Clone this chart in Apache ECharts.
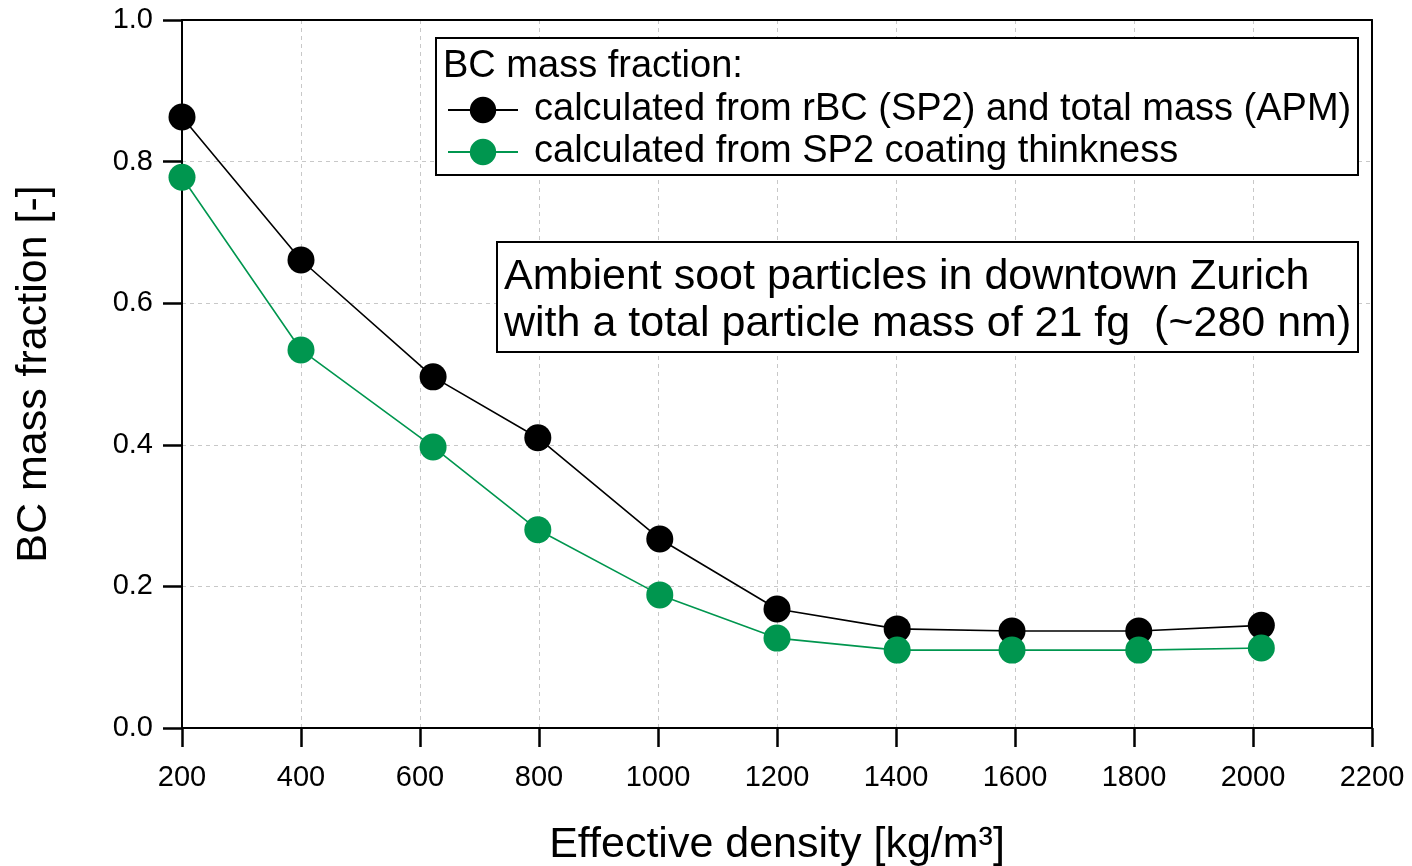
<!DOCTYPE html>
<html><head><meta charset="utf-8">
<script src="https://cdn.jsdelivr.net/npm/echarts@6/dist/echarts.min.js"></script>
<style>html,body{margin:0;padding:0;background:#fff}#c{width:1412px;height:866px}</style>
</head><body><div id="c"></div>
<script>
const densityBlack = [200, 400, 622, 798, 1003, 1200, 1402, 1595, 1808, 2014];
const fractionBlack = [0.863, 0.661, 0.496, 0.410, 0.267, 0.168, 0.140, 0.137, 0.137, 0.145];
const densityGreen = [200, 400, 622, 798, 1003, 1200, 1402, 1595, 1808, 2014];
const fractionGreen = [0.778, 0.534, 0.397, 0.280, 0.188, 0.127, 0.110, 0.110, 0.110, 0.113];
const seriesNames = ['calculated from rBC (SP2) and total mass (APM)', 'calculated from SP2 coating thinkness'];
const legendHeader = 'BC mass fraction:';
const noteLines = ['Ambient soot particles in downtown Zurich', 'with a total particle mass of 21 fg  (~280 nm)'];
const xTitle = 'Effective density [kg/m³]';
const yTitle = 'BC mass fraction [-]';
const GREEN = '#00964f';
const FONT = '"Liberation Sans", Arial, sans-serif';

const chart = echarts.init(document.getElementById('c'), null, {renderer: 'canvas'});
const pair = (xs, ys) => xs.map((x, i) => [x, ys[i]]);
chart.setOption({
  animation: false,
  textStyle: {fontFamily: FONT},
  grid: {left: 182, right: 40, top: 20, bottom: 138, containLabel: false, outerBoundsMode: 'none'},
  xAxis: [{
    type: 'value', min: 200, max: 2200, interval: 200,
    axisLine: {show: true, onZero: false, lineStyle: {color: '#000', width: 2}},
    axisTick: {show: true, inside: false, length: 19, lineStyle: {color: '#000', width: 2.5}},
    axisLabel: {color: '#000', fontSize: 29, margin: 35, fontFamily: FONT, formatter: v => String(v)},
    splitLine: {show: true, lineStyle: {color: '#c8c8c8', type: [4, 4], width: 1}},
    name: xTitle, nameLocation: 'middle', nameGap: 96,
    nameTextStyle: {color: '#000', fontSize: 43, fontFamily: FONT}
  }, {
    type: 'value', position: 'top', min: 200, max: 2200, interval: 200,
    axisLine: {show: true, onZero: false, lineStyle: {color: '#000', width: 2}},
    axisTick: {show: false}, axisLabel: {show: false}, splitLine: {show: false}
  }],
  yAxis: [{
    type: 'value', min: 0, max: 1, interval: 0.2,
    axisLine: {show: true, onZero: false, lineStyle: {color: '#000', width: 2}},
    axisTick: {show: true, inside: false, length: 19, lineStyle: {color: '#000', width: 2.5}},
    axisLabel: {color: '#000', fontSize: 29, margin: 29, fontFamily: FONT, formatter: v => v.toFixed(1)},
    splitLine: {show: true, lineStyle: {color: '#c8c8c8', type: [4, 4], width: 1}},
    name: yTitle, nameLocation: 'middle', nameGap: 126,
    nameTextStyle: {color: '#000', fontSize: 43, fontFamily: FONT}
  }, {
    type: 'value', position: 'right', min: 0, max: 1, interval: 0.2,
    axisLine: {show: true, onZero: false, lineStyle: {color: '#000', width: 2}},
    axisTick: {show: false}, axisLabel: {show: false}, splitLine: {show: false}
  }],
  legend: {
    show: true, orient: 'vertical', left: 447, top: 89, z: 100, padding: 0,
    itemWidth: 70, itemHeight: 33, itemGap: 0,
    textStyle: {color: '#000', fontSize: 38, lineHeight: 42, fontFamily: FONT, padding: [0, 0, 0, 11]},
    data: seriesNames
  },
  series: [{
    name: seriesNames[0], type: 'line', data: pair(densityBlack, fractionBlack),
    symbol: 'circle', symbolSize: 27, z: 3,
    lineStyle: {color: '#000', width: 1.6}, itemStyle: {color: '#000'}
  }, {
    name: seriesNames[1], type: 'line', data: pair(densityGreen, fractionGreen),
    symbol: 'circle', symbolSize: 27, z: 4,
    lineStyle: {color: GREEN, width: 1.6}, itemStyle: {color: GREEN}
  }],
  graphic: [
    {type: 'rect', shape: {x: 436, y: 38, width: 922, height: 137}, z: 50,
      style: {fill: '#fff', stroke: '#000', lineWidth: 2}},
    {type: 'text', x: 443, y: 67, z: 51,
      style: {text: legendHeader, fill: '#000', font: '38px ' + FONT, verticalAlign: 'middle'}},
    {type: 'rect', shape: {x: 497, y: 242, width: 861, height: 110}, z: 50,
      style: {fill: '#fff', stroke: '#000', lineWidth: 2}},
    {type: 'text', x: 504, y: 277, z: 51,
      style: {text: noteLines[0], fill: '#000', font: '43px ' + FONT, verticalAlign: 'middle'}},
    {type: 'text', x: 504, y: 324, z: 51,
      style: {text: noteLines[1], fill: '#000', font: '43px ' + FONT, verticalAlign: 'middle'}}
  ]
});
</script></body></html>
